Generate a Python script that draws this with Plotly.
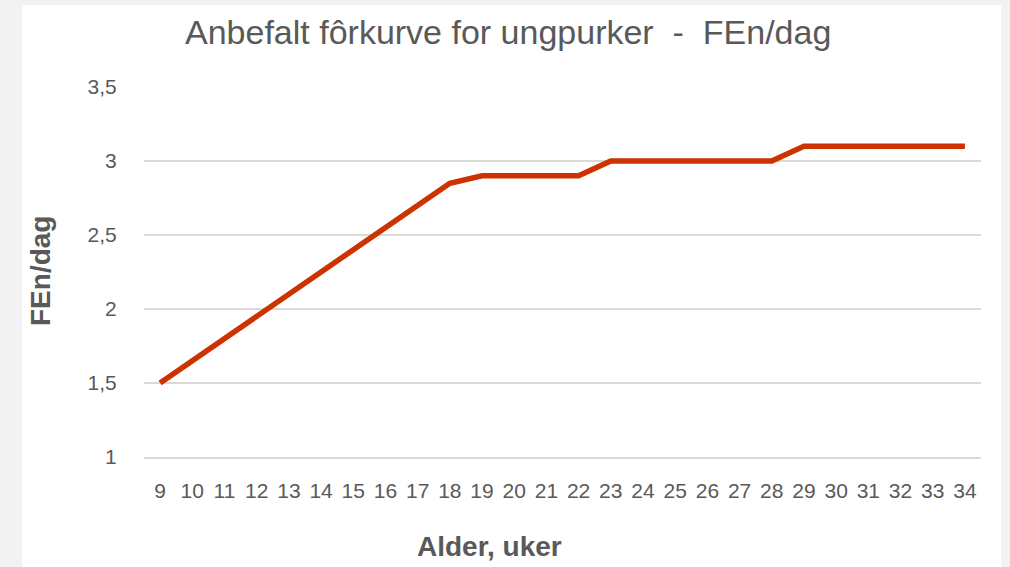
import plotly.graph_objects as go

weeks = list(range(9, 35))
fen_per_day = [1.5, 1.65, 1.8, 1.95, 2.1, 2.25, 2.4, 2.55, 2.7, 2.85,
               2.9, 2.9, 2.9, 2.9,
               3.0, 3.0, 3.0, 3.0, 3.0, 3.0,
               3.1, 3.1, 3.1, 3.1, 3.1, 3.1]
y_ticks = [1, 1.5, 2, 2.5, 3, 3.5]

title_text = "Anbefalt fôrkurve for ungpurker  -  FEn/dag"
x_title = "Alder, uker"
y_title = "FEn/dag"

W, H = 1010, 567
L, R, T, B = 144, 29, 87, 110
pw, ph = W - L - R, H - T - B

def px_x(p):
    return (p - L) / pw

def px_y(p):
    return (H - B - p) / ph

font = "Liberation Sans, Arial, sans-serif"
gray = "#595959"

fig = go.Figure()
fig.add_trace(go.Scatter(
    x=[str(w) for w in weeks], y=fen_per_day, mode="lines",
    line=dict(color="#cc3300", width=5.5), hoverinfo="x+y",
))

fig.update_layout(
    width=W, height=H,
    margin=dict(l=L, r=R, t=T, b=B, pad=0),
    paper_bgcolor="#f2f2f2", plot_bgcolor="white",
    separators=", ",
    showlegend=False,
    font=dict(family=font, color=gray),
    shapes=[dict(type="rect", xref="paper", yref="paper",
                 x0=px_x(22), x1=px_x(1001), y0=px_y(567), y1=px_y(5),
                 fillcolor="white", line=dict(width=0), layer="below")],
    annotations=[
        dict(text=title_text, xref="paper", yref="paper", x=px_x(508), y=px_y(32),
             showarrow=False, xanchor="center", yanchor="middle",
             font=dict(size=34, color=gray, family=font)),
        dict(text="<b>" + x_title + "</b>", xref="paper", yref="paper", x=px_x(489), y=px_y(546),
             showarrow=False, xanchor="center", yanchor="middle",
             font=dict(size=28, color=gray, family=font)),
        dict(text="<b>" + y_title + "</b>", xref="paper", yref="paper", x=px_x(40), y=px_y(271),
             showarrow=False, xanchor="center", yanchor="middle", textangle=-90,
             font=dict(size=28, color=gray, family=font)),
    ],
)
fig.update_xaxes(
    type="category", range=[-0.5, len(weeks) - 0.5],
    showgrid=False, zeroline=False,
    showline=True, linecolor="#d9d9d9", linewidth=2,
    ticks="outside", ticklen=14, tickcolor="rgba(0,0,0,0)",
    tickfont=dict(size=21, color=gray, family=font),
)
fig.update_yaxes(
    range=[1, 3.5], tickvals=y_ticks,
    showgrid=True, gridcolor="#d9d9d9", gridwidth=2, zeroline=False,
    showline=False,
    ticks="outside", ticklen=22, tickcolor="rgba(0,0,0,0)",
    tickfont=dict(size=21, color=gray, family=font),
)

fig.write_html("out.html", config={"displayModeBar": False},
               post_script="document.body.style.margin='0';document.body.style.overflow='hidden';")
